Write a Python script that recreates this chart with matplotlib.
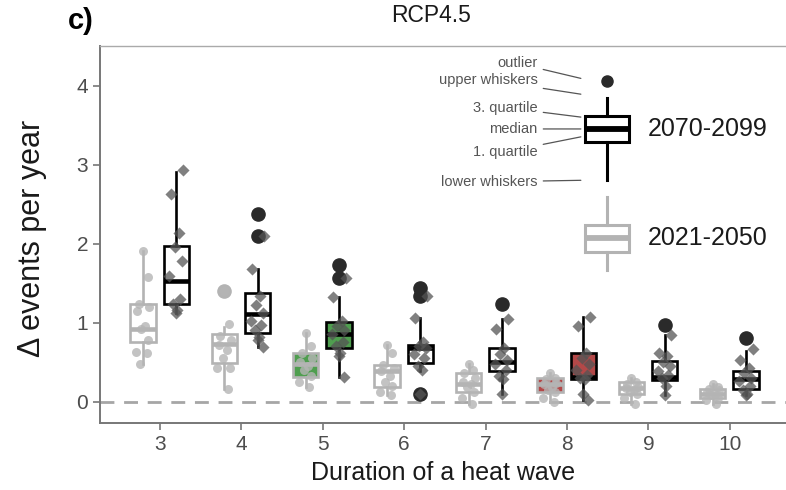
import matplotlib
matplotlib.use("Agg")
import matplotlib.pyplot as plt

plt.rcParams['font.family'] = ['Liberation Sans', 'DejaVu Sans']

durations = [3, 4, 5, 6, 7, 8, 9, 10]

# early period (2021-2050) box statistics
early_whislo = [0.48, 0.16, 0.18, 0.08, -0.03, 0.00, -0.03, -0.03]
early_q1     = [0.75, 0.49, 0.31, 0.18, 0.12, 0.12, 0.10, 0.04]
early_med    = [0.92, 0.73, 0.48, 0.38, 0.22, 0.22, 0.17, 0.10]
early_q3     = [1.23, 0.85, 0.62, 0.46, 0.36, 0.30, 0.25, 0.16]
early_whishi = [1.91, 0.94, 0.87, 0.71, 0.48, 0.36, 0.30, 0.22]
early_fliers = [[], [1.40], [], [], [], [], [], []]

# late period (2070-2099) box statistics
late_whislo = [1.12, 0.69, 0.31, 0.39, 0.10, 0.02, 0.08, 0.08]
late_q1     = [1.23, 0.87, 0.68, 0.49, 0.39, 0.28, 0.27, 0.16]
late_med    = [1.53, 1.11, 0.85, 0.68, 0.50, 0.31, 0.31, 0.28]
late_q3     = [1.97, 1.37, 1.01, 0.72, 0.68, 0.62, 0.51, 0.39]
late_whishi = [2.91, 1.68, 1.32, 1.06, 1.05, 1.07, 0.84, 0.64]
late_fliers = [[], [2.37, 2.10], [1.73, 1.56], [1.44, 1.33, 0.10], [1.24], [], [0.97], [0.80]]

# individual model values
early_points = [
    [1.91, 1.58, 1.24, 1.20, 1.15, 0.95, 0.92, 0.78, 0.63, 0.62, 0.48],
    [1.40, 0.98, 0.83, 0.78, 0.72, 0.65, 0.55, 0.42, 0.42, 0.16],
    [0.87, 0.70, 0.62, 0.55, 0.50, 0.45, 0.40, 0.32, 0.25, 0.18],
    [0.71, 0.62, 0.46, 0.42, 0.38, 0.32, 0.25, 0.20, 0.12, 0.08],
    [0.48, 0.40, 0.36, 0.30, 0.25, 0.22, 0.18, 0.12, 0.05, -0.03],
    [0.36, 0.30, 0.28, 0.24, 0.22, 0.18, 0.15, 0.12, 0.05, 0.00],
    [0.30, 0.25, 0.22, 0.19, 0.17, 0.14, 0.12, 0.10, 0.05, -0.03],
    [0.22, 0.18, 0.16, 0.14, 0.12, 0.10, 0.08, 0.05, 0.02, -0.03],
]
late_points = [
    [2.93, 2.63, 2.13, 1.95, 1.78, 1.59, 1.30, 1.24, 1.16, 1.12],
    [2.10, 1.68, 1.33, 1.22, 1.12, 1.02, 0.97, 0.90, 0.82, 0.78, 0.69],
    [1.56, 1.32, 1.02, 0.95, 0.90, 0.85, 0.75, 0.70, 0.62, 0.58, 0.31],
    [1.33, 1.06, 0.75, 0.70, 0.68, 0.60, 0.55, 0.45, 0.40, 0.10],
    [1.05, 0.92, 0.68, 0.60, 0.52, 0.48, 0.40, 0.32, 0.28, 0.10],
    [1.07, 0.95, 0.62, 0.55, 0.48, 0.40, 0.33, 0.30, 0.28, 0.10, 0.02],
    [0.84, 0.62, 0.58, 0.50, 0.45, 0.38, 0.33, 0.30, 0.20, 0.08],
    [0.66, 0.52, 0.42, 0.36, 0.30, 0.26, 0.20, 0.15, 0.10, 0.08],
]

# box fill colours per duration (None = white)
fill_colors = [None, None, '#4f9e4f', None, None, '#b34848', None, None]

# legend example boxes
legend_late = dict(whislo=2.80, q1=3.28, med=3.45, q3=3.62, whishi=3.84, fliers=[4.06])
legend_early = dict(whislo=1.66, q1=1.89, med=2.07, q3=2.24, whishi=2.59, fliers=[])
legend_labels = ['2070-2099', '2021-2050']
legend_notes = ['outlier', 'upper whiskers', '3. quartile', 'median', '1. quartile', 'lower whiskers']

GRAY = '#b3b3b3'

fig = plt.figure(figsize=(7.86, 4.9), dpi=100)
ax = fig.add_axes([100/786, 67/490, 686/786, 377/490])

ax.axhline(0, color='#a6a6a6', lw=2.0, ls=(0, (5, 3.5)), zorder=1)

jit = [0.0, 0.06, -0.05, 0.08, -0.07, 0.03, -0.02, 0.065, -0.085, 0.045, -0.035, 0.015]

def stats(lo, q1, md, q3, hi, fl):
    return dict(whislo=lo, q1=q1, med=md, q3=q3, whishi=hi, fliers=fl)

for i, d in enumerate(durations):
    fc = fill_colors[i] if fill_colors[i] else 'white'
    e = stats(early_whislo[i], early_q1[i], early_med[i], early_q3[i], early_whishi[i], early_fliers[i])
    l = stats(late_whislo[i], late_q1[i], late_med[i], late_q3[i], late_whishi[i], late_fliers[i])
    ax.bxp([e], positions=[d - 0.21], widths=0.31, patch_artist=True, showcaps=False,
           boxprops=dict(facecolor=fc, edgecolor=GRAY, lw=1.9),
           whiskerprops=dict(color=GRAY, lw=1.9),
           medianprops=dict(color=GRAY, lw=3.3, solid_capstyle='butt'),
           flierprops=dict(marker='o', markerfacecolor=GRAY, markeredgecolor=GRAY, markersize=9.5),
           zorder=2, manage_ticks=False)
    ax.bxp([l], positions=[d + 0.20], widths=0.31, patch_artist=True, showcaps=False,
           boxprops=dict(facecolor=fc, edgecolor='black', lw=1.9),
           whiskerprops=dict(color='black', lw=1.9),
           medianprops=dict(color='black', lw=3.3, solid_capstyle='butt'),
           flierprops=dict(marker='o', markerfacecolor='#2a2a2a', markeredgecolor='#2a2a2a', markersize=9.5),
           zorder=2, manage_ticks=False)
    ep = early_points[i]
    ax.scatter([d - 0.21 + jit[k % len(jit)] for k in range(len(ep))], ep, s=42, marker='o',
               color='#b5b5b5', alpha=0.8, lw=0, zorder=3)
    lp = late_points[i]
    ax.scatter([d + 0.20 + jit[(k + 3) % len(jit)] for k in range(len(lp))], lp, s=38, marker='D',
               color='#555555', alpha=0.75, lw=0, zorder=3)

# legend boxes
lx = 8.49
ax.bxp([legend_late], positions=[lx], widths=0.55, patch_artist=True, showcaps=False,
       boxprops=dict(facecolor='white', edgecolor='black', lw=2.2),
       whiskerprops=dict(color='black', lw=2.2),
       medianprops=dict(color='black', lw=4.2, solid_capstyle='butt'),
       flierprops=dict(marker='o', markerfacecolor='#2a2a2a', markeredgecolor='#2a2a2a', markersize=8),
       zorder=2, manage_ticks=False)
ax.bxp([legend_early], positions=[lx], widths=0.55, patch_artist=True, showcaps=False,
       boxprops=dict(facecolor='white', edgecolor=GRAY, lw=2.2),
       whiskerprops=dict(color=GRAY, lw=2.2),
       medianprops=dict(color=GRAY, lw=4.2, solid_capstyle='butt'),
       zorder=2, manage_ticks=False)
ax.text(lx + 0.5, legend_late['med'], legend_labels[0], fontsize=18, va='center', ha='left', color='#1a1a1a')
ax.text(lx + 0.5, legend_early['med'], legend_labels[1], fontsize=18, va='center', ha='left', color='#1a1a1a')

note_y = [legend_late['fliers'][0] + 0.22, legend_late['whishi'] + 0.23, legend_late['q3'] + 0.1,
          legend_late['med'], legend_late['q1'] - 0.12, legend_late['whislo'] - 0.02]
tip_y = [legend_late['fliers'][0] + 0.03, legend_late['whishi'] + 0.05, legend_late['q3'] - 0.02,
         legend_late['med'], legend_late['q1'] + 0.07, legend_late['whislo'] + 0.0]
for txt, ty, py in zip(legend_notes, note_y, tip_y):
    ax.annotate(txt, xy=(lx - 0.32, py), xytext=(lx - 0.85, ty), fontsize=10.5, color='#555555',
                ha='right', va='center',
                arrowprops=dict(arrowstyle='-', color='#555555', lw=0.9, shrinkA=2, shrinkB=0))

ax.set_xlim(2.263, 10.69)
ax.set_ylim(-0.272, 4.5)
ax.set_xticks(durations)
ax.set_xticklabels([str(d) for d in durations])
ax.set_yticks([0, 1, 2, 3, 4])
ax.tick_params(axis='both', labelsize=15, labelcolor='#4d4d4d', color='#777777', length=5, width=1.2)
for s in ['left', 'bottom']:
    ax.spines[s].set_color('#777777')
    ax.spines[s].set_linewidth(1.4)
ax.spines['top'].set_color('#aaaaaa')
ax.spines['top'].set_linewidth(1.0)
ax.spines['right'].set_visible(False)

ax.set_ylabel('Δ events per year', fontsize=22, color='#1a1a1a')
ax.yaxis.set_label_coords(-0.077, 0.49)
ax.set_xlabel('Duration of a heat wave', fontsize=18, color='#1a1a1a')
ax.xaxis.set_label_coords(0.5, -0.1)

fig.text(431/786, 1 - 16/490, 'RCP4.5', fontsize=16.5, ha='center', va='center', color='#1a1a1a')
fig.text(68/786, 1 - 21/490, 'c)', fontsize=21, fontweight='bold', ha='left', va='center')

fig.savefig('out.png', dpi=100)
